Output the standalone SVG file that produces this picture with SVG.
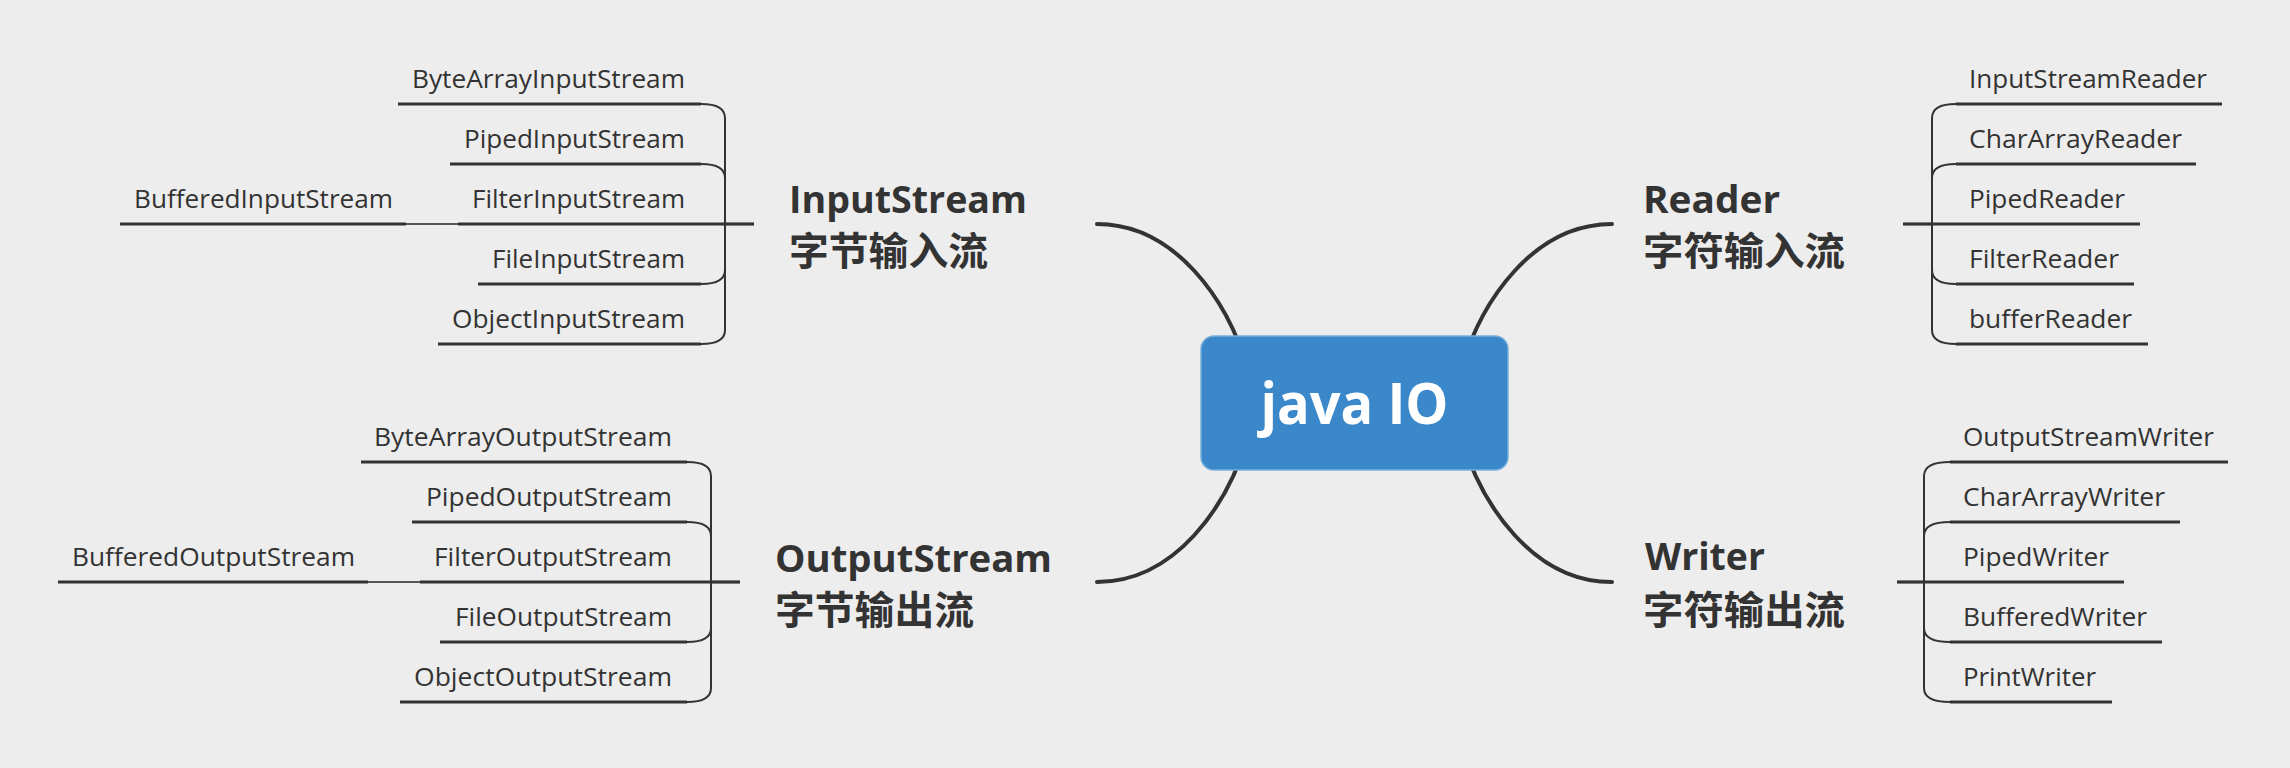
<svg xmlns="http://www.w3.org/2000/svg" width="2290" height="768" viewBox="0 0 2290 768">
<style>
.bg{fill:#EDEDED}
.sub{font-family:"Open Sans","Liberation Sans",sans-serif;font-size:25px;fill:#333333}
.main{font-family:"Open Sans","Liberation Sans",sans-serif;font-size:37px;font-weight:700;fill:#333333}
.cjk{font-family:"Noto Sans CJK SC","Noto Sans",sans-serif;font-size:39px;font-weight:700;fill:#333333}
.root{font-family:"Open Sans","Lato","Liberation Sans",sans-serif;font-size:58px;font-weight:700;fill:#FFFFFF}
.curve{fill:none;stroke:#333333;stroke-width:4;stroke-linecap:round}
.br{fill:none;stroke:#333333;stroke-width:2}
.ul{fill:none;stroke:#333333;stroke-width:3.2}
.thin{fill:none;stroke:#555555;stroke-width:2}
</style>
<rect class="bg" x="0" y="0" width="2290" height="768"/>

<g id="connectors">
  <path class="curve" d="M1097,224 C1175,224 1228,300 1248,370"/>
  <path class="curve" d="M1612,224 C1534,224 1481,300 1461,370"/>
  <path class="curve" d="M1097,582 C1175,582 1228,506 1248,436"/>
  <path class="curve" d="M1612,582 C1534,582 1481,506 1461,436"/>
  <path class="ul" d="M725,224 H754"/>
  <path class="br" d="M725,224 V118 Q725,104 701,104"/>
  <path class="br" d="M725,224 V178 Q725,164 701,164"/>
  <path class="br" d="M725,224 V270 Q725,284 701,284"/>
  <path class="br" d="M725,224 V330 Q725,344 701,344"/>
  <path class="thin" d="M406,224 H458"/>
  <path class="ul" d="M711,582 H740"/>
  <path class="br" d="M711,582 V476 Q711,462 687,462"/>
  <path class="br" d="M711,582 V536 Q711,522 687,522"/>
  <path class="br" d="M711,582 V628 Q711,642 687,642"/>
  <path class="br" d="M711,582 V688 Q711,702 687,702"/>
  <path class="thin" d="M368,582 H421"/>
  <path class="ul" d="M1903,224 H1932"/>
  <path class="br" d="M1932,224 V118 Q1932,104 1956,104"/>
  <path class="br" d="M1932,224 V178 Q1932,164 1956,164"/>
  <path class="br" d="M1932,224 V270 Q1932,284 1956,284"/>
  <path class="br" d="M1932,224 V330 Q1932,344 1956,344"/>
  <path class="ul" d="M1897,582 H1924"/>
  <path class="br" d="M1924,582 V476 Q1924,462 1950,462"/>
  <path class="br" d="M1924,582 V536 Q1924,522 1950,522"/>
  <path class="br" d="M1924,582 V628 Q1924,642 1950,642"/>
  <path class="br" d="M1924,582 V688 Q1924,702 1950,702"/>
</g>

<g id="root">
  <rect x="1201" y="336" width="307" height="134" rx="13" fill="#3A88CA" stroke="#78AEDC" stroke-width="1.5"/>
  <text class="root" x="1354.5" y="424" text-anchor="middle" textLength="188" lengthAdjust="spacingAndGlyphs">java IO</text>
</g>

<g id="inputstream">
  <text class="main" x="789" y="213" textLength="238" lengthAdjust="spacingAndGlyphs">InputStream</text>
  <text class="cjk" x="789" y="265" textLength="199" lengthAdjust="spacingAndGlyphs">字节输入流</text>
</g>
<g id="outputstream">
  <text class="main" x="775" y="572" textLength="277" lengthAdjust="spacingAndGlyphs">OutputStream</text>
  <text class="cjk" x="775" y="624" textLength="199" lengthAdjust="spacingAndGlyphs">字节输出流</text>
</g>
<g id="reader">
  <text class="main" x="1643" y="213" textLength="137" lengthAdjust="spacingAndGlyphs">Reader</text>
  <text class="cjk" x="1643" y="265" textLength="202" lengthAdjust="spacingAndGlyphs">字符输入流</text>
</g>
<g id="writer">
  <text class="main" x="1645" y="570" textLength="120" lengthAdjust="spacingAndGlyphs">Writer</text>
  <text class="cjk" x="1643" y="624" textLength="202" lengthAdjust="spacingAndGlyphs">字符输出流</text>
</g>

<g id="bytearrayinputstream">
  <text class="sub" x="685" y="88" text-anchor="end" textLength="273" lengthAdjust="spacingAndGlyphs">ByteArrayInputStream</text>
  <path class="ul" d="M398,104 H701"/>
</g>
<g id="pipedinputstream">
  <text class="sub" x="685" y="148" text-anchor="end" textLength="221" lengthAdjust="spacingAndGlyphs">PipedInputStream</text>
  <path class="ul" d="M450,164 H701"/>
</g>
<g id="filterinputstream">
  <text class="sub" x="685" y="208" text-anchor="end" textLength="213" lengthAdjust="spacingAndGlyphs">FilterInputStream</text>
  <path class="ul" d="M458,224 H725"/>
</g>
<g id="bufferedinputstream">
  <text class="sub" x="393" y="208" text-anchor="end" textLength="259" lengthAdjust="spacingAndGlyphs">BufferedInputStream</text>
  <path class="ul" d="M120,224 H406"/>
</g>
<g id="fileinputstream">
  <text class="sub" x="685" y="268" text-anchor="end" textLength="193" lengthAdjust="spacingAndGlyphs">FileInputStream</text>
  <path class="ul" d="M478,284 H701"/>
</g>
<g id="objectinputstream">
  <text class="sub" x="685" y="328" text-anchor="end" textLength="233" lengthAdjust="spacingAndGlyphs">ObjectInputStream</text>
  <path class="ul" d="M438,344 H701"/>
</g>

<g id="bytearrayoutputstream">
  <text class="sub" x="672" y="446" text-anchor="end" textLength="298" lengthAdjust="spacingAndGlyphs">ByteArrayOutputStream</text>
  <path class="ul" d="M361,462 H687"/>
</g>
<g id="pipedoutputstream">
  <text class="sub" x="672" y="506" text-anchor="end" textLength="246" lengthAdjust="spacingAndGlyphs">PipedOutputStream</text>
  <path class="ul" d="M412,522 H687"/>
</g>
<g id="filteroutputstream">
  <text class="sub" x="672" y="566" text-anchor="end" textLength="238" lengthAdjust="spacingAndGlyphs">FilterOutputStream</text>
  <path class="ul" d="M420,582 H711"/>
</g>
<g id="bufferedoutputstream">
  <text class="sub" x="355" y="566" text-anchor="end" textLength="283" lengthAdjust="spacingAndGlyphs">BufferedOutputStream</text>
  <path class="ul" d="M58,582 H368"/>
</g>
<g id="fileoutputstream">
  <text class="sub" x="672" y="626" text-anchor="end" textLength="217" lengthAdjust="spacingAndGlyphs">FileOutputStream</text>
  <path class="ul" d="M440,642 H687"/>
</g>
<g id="objectoutputstream">
  <text class="sub" x="672" y="686" text-anchor="end" textLength="258" lengthAdjust="spacingAndGlyphs">ObjectOutputStream</text>
  <path class="ul" d="M400,702 H687"/>
</g>

<g id="inputstreamreader">
  <text class="sub" x="1969" y="88" textLength="238" lengthAdjust="spacingAndGlyphs">InputStreamReader</text>
  <path class="ul" d="M1956,104 H2222"/>
</g>
<g id="chararrayreader">
  <text class="sub" x="1969" y="148" textLength="213" lengthAdjust="spacingAndGlyphs">CharArrayReader</text>
  <path class="ul" d="M1956,164 H2196"/>
</g>
<g id="pipedreader">
  <text class="sub" x="1969" y="208" textLength="156" lengthAdjust="spacingAndGlyphs">PipedReader</text>
  <path class="ul" d="M1932,224 H2140"/>
</g>
<g id="filterreader">
  <text class="sub" x="1969" y="268" textLength="150" lengthAdjust="spacingAndGlyphs">FilterReader</text>
  <path class="ul" d="M1956,284 H2134"/>
</g>
<g id="bufferreader">
  <text class="sub" x="1969" y="328" textLength="163" lengthAdjust="spacingAndGlyphs">bufferReader</text>
  <path class="ul" d="M1956,344 H2148"/>
</g>

<g id="outputstreamwriter">
  <text class="sub" x="1963" y="446" textLength="251" lengthAdjust="spacingAndGlyphs">OutputStreamWriter</text>
  <path class="ul" d="M1950,462 H2228"/>
</g>
<g id="chararraywriter">
  <text class="sub" x="1963" y="506" textLength="202" lengthAdjust="spacingAndGlyphs">CharArrayWriter</text>
  <path class="ul" d="M1950,522 H2180"/>
</g>
<g id="pipedwriter">
  <text class="sub" x="1963" y="566" textLength="146" lengthAdjust="spacingAndGlyphs">PipedWriter</text>
  <path class="ul" d="M1924,582 H2124"/>
</g>
<g id="bufferedwriter">
  <text class="sub" x="1963" y="626" textLength="184" lengthAdjust="spacingAndGlyphs">BufferedWriter</text>
  <path class="ul" d="M1950,642 H2162"/>
</g>
<g id="printwriter">
  <text class="sub" x="1963" y="686" textLength="133" lengthAdjust="spacingAndGlyphs">PrintWriter</text>
  <path class="ul" d="M1950,702 H2112"/>
</g>
</svg>
